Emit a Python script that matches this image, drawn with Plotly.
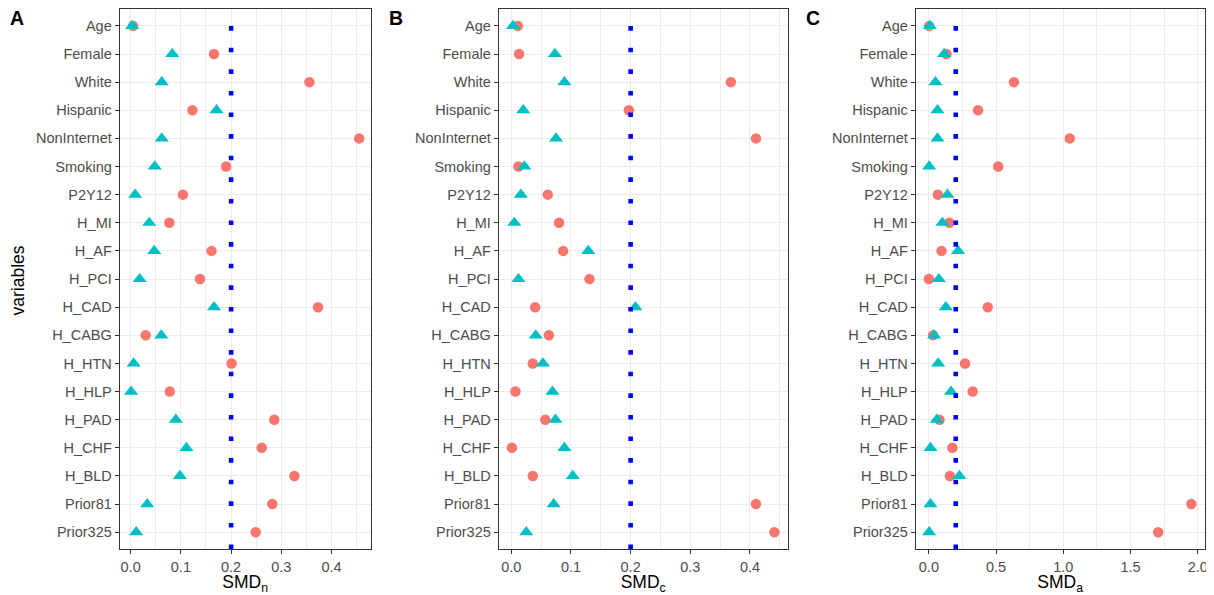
import plotly.graph_objects as go

variables = ["Age", "Female", "White", "Hispanic", "NonInternet", "Smoking", "P2Y12",
             "H_MI", "H_AF", "H_PCI", "H_CAD", "H_CABG", "H_HTN", "H_HLP", "H_PAD",
             "H_CHF", "H_BLD", "Prior81", "Prior325"]

# Panel A: SMD_n
a_circle = [0.005, 0.166, 0.356, 0.123, 0.455, 0.190, 0.104, 0.077, 0.161, 0.138,
            0.373, 0.030, 0.201, 0.078, 0.286, 0.261, 0.326, 0.282, 0.249]
a_triangle = [0.003, 0.083, 0.062, 0.171, 0.062, 0.048, 0.009, 0.037, 0.047, 0.018,
              0.166, 0.061, 0.006, 0.001, 0.090, 0.111, 0.098, 0.033, 0.011]
# Panel B: SMD_c
b_circle = [0.011, 0.013, 0.368, 0.197, 0.410, 0.012, 0.061, 0.080, 0.087, 0.131,
            0.040, 0.063, 0.036, 0.007, 0.057, 0.001, 0.036, 0.410, 0.441]
b_triangle = [0.003, 0.073, 0.089, 0.020, 0.075, 0.022, 0.016, 0.005, 0.129, 0.012,
              0.208, 0.041, 0.053, 0.069, 0.074, 0.089, 0.103, 0.071, 0.025]
# Panel C: SMD_a
c_circle = [0.002, 0.131, 0.633, 0.366, 1.048, 0.516, 0.067, 0.153, 0.094, 0.0,
            0.438, 0.032, 0.269, 0.326, 0.079, 0.175, 0.156, 1.953, 1.706]
c_triangle = [0.007, 0.114, 0.049, 0.064, 0.064, 0.002, 0.138, 0.101, 0.217, 0.074,
              0.126, 0.039, 0.069, 0.165, 0.059, 0.012, 0.227, 0.012, 0.002]

threshold = 0.2
panel_letters = ["A", "B", "C"]
x_titles = ["SMD<sub>n</sub>", "SMD<sub>c</sub>", "SMD<sub>a</sub>"]
x_dticks = [0.1, 0.1, 0.5]

panels = [(a_circle, a_triangle), (b_circle, b_triangle), (c_circle, c_triangle)]

# the page adds an 8px body margin, so the figure is laid out in page pixels minus 8
OFF = 8
W, H = 1214 - OFF, 595 - OFF


def fx(px):
    return (px - OFF) / W


def fy(py):
    return 1 - (py - OFF) / H


x_domains = [(fx(120), fx(371.5)), (fx(500), fx(789.5)), (fx(918), fx(1207.5))]
y_domain = (fy(549), fy(8))
letter_x = [17, 397, 815]

RED = "#F8766D"
CYAN = "#00BFC4"
FONT = "Liberation Sans, Arial, sans-serif"
TICK_SIZE = 14.5
TITLE_SIZE = 17.5

fig = go.Figure()
layout = dict(
    width=W, height=H,
    margin=dict(l=0, r=0, t=0, b=0),
    paper_bgcolor="white", plot_bgcolor="white",
    showlegend=False,
    font=dict(family=FONT, size=TICK_SIZE, color="#4D4D4D"),
    annotations=[], shapes=[],
)

for i, (circ, tri) in enumerate(panels):
    sfx = "" if i == 0 else str(i + 1)
    xa, ya = "x" + sfx, "y" + sfx
    fig.add_trace(go.Scatter(
        x=circ, y=variables, mode="markers", xaxis=xa, yaxis=ya,
        marker=dict(symbol="circle", size=10.5, color=RED, line=dict(width=0)),
        cliponaxis=False))
    fig.add_trace(go.Scatter(
        x=tri, y=variables, mode="markers", xaxis=xa, yaxis=ya,
        marker=dict(symbol="triangle-up", size=12.3, color=CYAN, line=dict(width=0)),
        cliponaxis=False))

    vals = circ + tri + [threshold]
    lo, hi = min(vals), max(vals)
    span = hi - lo
    layout["xaxis" + sfx] = dict(
        domain=list(x_domains[i]), anchor=ya,
        range=[lo - 0.05 * span, hi + 0.05 * span],
        dtick=x_dticks[i], tick0=0, tickformat=".1f",
        showgrid=True, gridcolor="#EBEBEB", gridwidth=1.1,
        minor=dict(dtick=x_dticks[i] / 2, tick0=0, showgrid=True,
                   gridcolor="#EBEBEB", gridwidth=0.55, ticks=""),
        zeroline=False,
        ticks="outside", ticklen=4, tickwidth=1.1, tickcolor="#333333",
        tickfont=dict(size=TICK_SIZE, color="#4D4D4D", family=FONT),
        showline=True, linecolor="#333333", linewidth=1.1, mirror=True,
        title=dict(text=x_titles[i], font=dict(size=TITLE_SIZE, color="black", family=FONT),
                   standoff=2),
    )
    layout["yaxis" + sfx] = dict(
        domain=list(y_domain), anchor=xa,
        type="category", categoryorder="array", categoryarray=variables,
        range=[len(variables) - 1 + 0.6, -0.6],
        showgrid=True, gridcolor="#EBEBEB", gridwidth=1.1,
        zeroline=False,
        ticks="outside", ticklen=4, tickwidth=1.1, tickcolor="#333333",
        tickfont=dict(size=TICK_SIZE, color="#4D4D4D", family=FONT),
        showline=True, linecolor="#333333", linewidth=1.1, mirror=True,
    )
    layout["shapes"].append(dict(
        type="line", xref=xa, yref=ya + " domain",
        x0=threshold, x1=threshold, y0=0, y1=1,
        line=dict(color="#0000FF", width=4.6, dash="4.6px,17px"),
        layer="above"))
    layout["annotations"].append(dict(
        text="<b>" + panel_letters[i] + "</b>", xref="paper", yref="paper",
        x=fx(letter_x[i]), y=fy(17), xanchor="center", yanchor="middle",
        showarrow=False, font=dict(size=19.5, color="black", family=FONT)))

layout["annotations"].append(dict(
    text="variables", xref="paper", yref="paper", x=fx(18), y=fy(280),
    xanchor="center", yanchor="middle", textangle=-90, showarrow=False,
    font=dict(size=TITLE_SIZE, color="black", family=FONT)))

fig.update_layout(**layout)
fig.write_html("out.html")
